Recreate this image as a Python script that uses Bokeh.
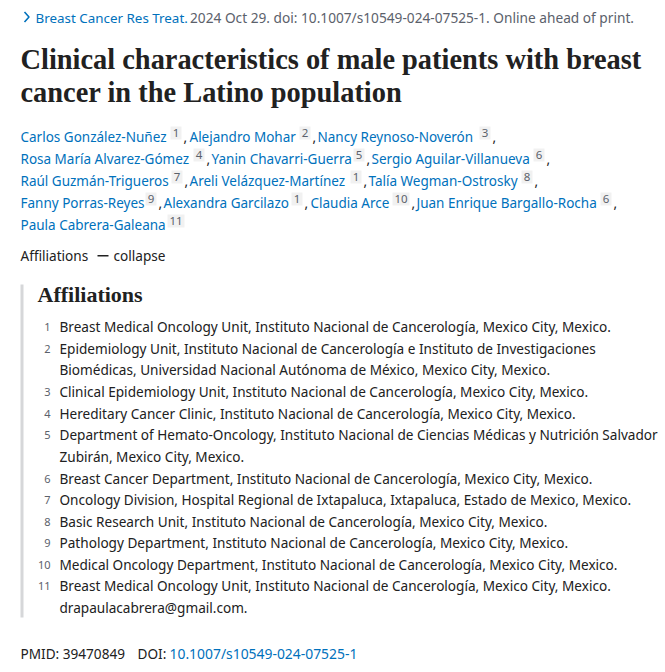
from bokeh.plotting import figure
from bokeh.core.properties import value
from bokeh.embed import file_html
from bokeh.resources import INLINE

# ---- content ----
journal = ["Breast Cancer Res Treat."]
citation = ["2024 Oct 29. doi: 10.1007/s10549-024-07525-1. Online ahead of print."]
title_lines = ["Clinical characteristics of male patients with breast", "cancer in the Latino population"]
author_names = [
    ["Carlos González-Nuñez", "Alejandro Mohar", "Nancy Reynoso-Noverón"],
    ["Rosa María Alvarez-Gómez", "Yanin Chavarri-Guerra", "Sergio Aguilar-Villanueva"],
    ["Raúl Guzmán-Trigueros", "Areli Velázquez-Martínez", "Talía Wegman-Ostrosky"],
    ["Fanny Porras-Reyes", "Alexandra Garcilazo", "Claudia Arce", "Juan Enrique Bargallo-Rocha"],
    ["Paula Cabrera-Galeana"],
]
author_refs = [["1", "2", "3"], ["4", "5", "6"], ["7", "1", "8"], ["9", "1", "10", "6"], ["11"]]
toggle_left = ["Affiliations"]
toggle_right = ["collapse"]
heading = ["Affiliations"]
aff_numbers = ["1", "2", "", "3", "4", "5", "", "6", "7", "8", "9", "10", "11", ""]
aff_lines = [
    "Breast Medical Oncology Unit, Instituto Nacional de Cancerología, Mexico City, Mexico.",
    "Epidemiology Unit, Instituto Nacional de Cancerología e Instituto de Investigaciones",
    "Biomédicas, Universidad Nacional Autónoma de México, Mexico City, Mexico.",
    "Clinical Epidemiology Unit, Instituto Nacional de Cancerología, Mexico City, Mexico.",
    "Hereditary Cancer Clinic, Instituto Nacional de Cancerología, Mexico City, Mexico.",
    "Department of Hemato-Oncology, Instituto Nacional de Ciencias Médicas y Nutrición Salvador",
    "Zubirán, Mexico City, Mexico.",
    "Breast Cancer Department, Instituto Nacional de Cancerología, Mexico City, Mexico.",
    "Oncology Division, Hospital Regional de Ixtapaluca, Ixtapaluca, Estado de Mexico, Mexico.",
    "Basic Research Unit, Instituto Nacional de Cancerología, Mexico City, Mexico.",
    "Pathology Department, Instituto Nacional de Cancerología, Mexico City, Mexico.",
    "Medical Oncology Department, Instituto Nacional de Cancerología, Mexico City, Mexico.",
    "Breast Medical Oncology Unit, Instituto Nacional de Cancerología, Mexico City, Mexico.",
    "drapaulacabrera@gmail.com.",
]
pmid_label = ["PMID: 39470849"]
doi_label = ["DOI:"]
doi_value = ["10.1007/s10549-024-07525-1"]

# ---- layout (window pixels) ----
W, H = 662, 664
BLUE, DARK, GREY = "#0071bc", "#212121", "#5b616b"
SANS, SERIF = "Noto Sans", "Liberation Serif"
BODY = "13.6px"

p = figure(width=W, height=H, x_range=(1, W + 1), y_range=(H + 1, 1),
           output_backend="svg", toolbar_location=None, min_border=0,
           background_fill_color="white", border_fill_color="white")
p.axis.visible = False
p.grid.visible = False
p.outline_line_color = None


def put(xs, ys, texts, color=DARK, size=BODY, font=SANS, style="normal", align="left"):
    p.text(x=xs, y=ys, text=texts, text_color=color, text_font=value(font), text_font_size=size,
           text_font_style=style, text_align=align, text_baseline="middle")


# breadcrumb
p.line(x=[25, 29.5, 25], y=[12.5, 17.5, 22.5], line_color=BLUE, line_width=1.6)
put([36], [18], journal, BLUE, size="13.4px")
put([190.5], [18], citation, GREY, size="13.7px")

# title
put([21, 21], [60, 93], title_lines, size="28.4px", font=SERIF, style="bold")

# authors
author_y = [137, 159, 181, 203, 225]
name_x = [[21, 190, 318], [21, 212, 372], [21, 190, 369], [21, 164, 311, 417], [21]]
box_x = [[171, 300, 480], [194, 354, 534], [172, 351, 522], [146, 292, 393, 601], [168]]
for row, y in enumerate(author_y):
    put(name_x[row], [y] * len(name_x[row]), author_names[row], BLUE, size="13.5px")
    lefts = box_x[row]
    rights = [l + 5 + 6 * len(r) for l, r in zip(lefts, author_refs[row])]
    p.quad(left=lefts, right=rights, top=[y - 10] * len(lefts), bottom=[y + 3] * len(lefts),
           fill_color="#f1f1f1", line_color=None)
    put([(l + r) / 2 for l, r in zip(lefts, rights)], [y - 4] * len(lefts), author_refs[row],
        GREY, size="11.5px", align="center")
    commas = [r + 2 for r in rights]
    if row == 4:
        continue
    put(commas, [y] * len(commas), [","] * len(commas), DARK)

# toggle
put([21], [256], toggle_left)
p.quad(left=[98], right=[109], top=[255.5], bottom=[257], fill_color=DARK, line_color=None)
put([114], [256], toggle_right)

# affiliations block
p.quad(left=[21], right=[24], top=[285], bottom=[618], fill_color="#d6d7d9", line_color=None)
put([38], [295], heading, size="22px", font=SERIF, style="bold")
aff_y = [327, 349, 370, 392, 414, 435, 457, 479, 500, 522, 543, 565, 586, 608]
put([51] * len(aff_y), aff_y, aff_numbers, GREY, size="11px", align="right")
put([60] * len(aff_y), aff_y, aff_lines)

# footer
put([21], [654], pmid_label)
put([138], [654], doi_label)
put([170], [654], doi_value, BLUE, size="13.9px")

open("out.html", "w").write(file_html(p, INLINE))
